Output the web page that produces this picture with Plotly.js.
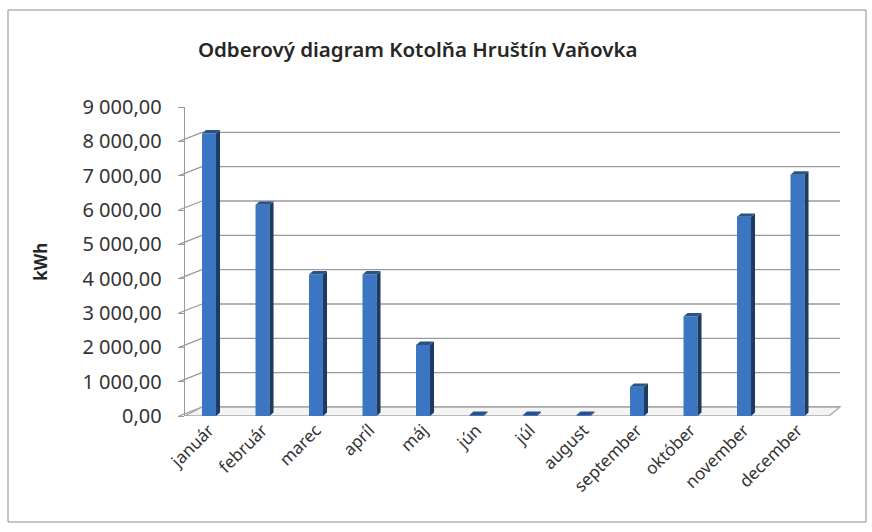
<!DOCTYPE html>
<html>
<head>
<meta charset="utf-8">
<script src="https://cdn.plot.ly/plotly-3.0.1.min.js"></script>
<style>html,body{margin:0;padding:0;background:#fff;}#chart{width:872px;height:532px;}</style>
</head>
<body>
<div id="chart"></div>
<script>
const months = ['január','február','marec','apríl','máj','jún','júl','august','september','október','november','december'];
const consumption = [8230, 6150, 4120, 4120, 2070, 30, 30, 30, 850, 2900, 5800, 7030];
const yTickValues = [0, 1000, 2000, 3000, 4000, 5000, 6000, 7000, 8000, 9000];
const chartTitle = 'Odberový diagram Kotolňa Hruštín Vaňovka';
const yLabel = 'kWh';

// 3D look constants (pixels / data depth)
const wallDx = 17, wallDy = 9;       // back wall offset in px
const halfW = 7, barDx = 4;          // bar half width and depth in px
const barDy = 100;                   // bar depth in data units (~3.5px)

const shapes = [];
// back wall gridlines + side wall diagonals
yTickValues.forEach(t => {
  shapes.push({type:'line', layer:'below', xref:'paper', yref:'y', xsizemode:'pixel', xanchor:0,
    ysizemode:'pixel', yanchor:t, x0:wallDx, x1:655, y0:wallDy, y1:wallDy,
    line:{color:'#9a9a9a', width:1.3}});
  shapes.push({type:'line', layer:'below', xref:'paper', yref:'y', xsizemode:'pixel', xanchor:0,
    ysizemode:'pixel', yanchor:t, x0:-6, x1:wallDx, y0:0, y1:wallDy,
    line:{color:'#9a9a9a', width:1.3}});
});
// floor front edge + right diagonal
shapes.push({type:'path', layer:'below', xref:'paper', yref:'y', xsizemode:'pixel', xanchor:0,
  ysizemode:'pixel', yanchor:0,
  path:`M0,0 L644,0 L655,${wallDy} L${wallDx},${wallDy} Z`,
  fillcolor:'#f3f3f3', line:{color:'#a8a8a8', width:1.3}});

// bar side and top faces
months.forEach((m, i) => {
  const v = consumption[i];
  shapes.push({type:'path', layer:'above', xref:'x', yref:'y', xsizemode:'pixel', xanchor:i,
    path:`M${halfW},${v} L${halfW+barDx},${v+barDy} L${halfW+barDx},${barDy} L${halfW},0 Z`,
    fillcolor:'#1d3a63', line:{width:0}});
  shapes.push({type:'path', layer:'above', xref:'x', yref:'y', xsizemode:'pixel', xanchor:i,
    path:`M${-halfW},${v} L${-halfW+barDx},${v+barDy} L${halfW+barDx},${v+barDy} L${halfW},${v} Z`,
    fillcolor:'#2b5286', line:{width:0}});
});

// outer chart frame
shapes.push({type:'rect', layer:'below', xref:'paper', yref:'paper', xsizemode:'pixel', xanchor:0,
  ysizemode:'pixel', yanchor:0, x0:-177, x1:681, y0:-106, y1:406,
  line:{color:'#8c8c8c', width:1}, fillcolor:'rgba(0,0,0,0)'});

const trace = {
  type:'bar', x: months, y: consumption, width: 0.262,
  marker:{color:'#3b76c2', line:{width:0}},
  hoverinfo:'x+y'
};

const layout = {
  width:872, height:532,
  margin:{l:185, r:32, t:107, b:116},
  paper_bgcolor:'#ffffff', plot_bgcolor:'rgba(0,0,0,0)',
  separators:', ',
  showlegend:false,
  title:{text:chartTitle, x:0.479, xanchor:'center', y:0.906, yanchor:'middle',
    font:{family:'Noto Sans, sans-serif', size:20.5, color:'#262626', weight:600}},
  xaxis:{type:'category', range:[-0.449, 11.794], showgrid:false, zeroline:false,
    showline:false, ticks:'', tickangle:-45,
    tickfont:{family:'Noto Sans, sans-serif', size:17, color:'#333333'}},
  yaxis:{range:[0, 9000], tickvals:yTickValues, tickformat:',.2f', showgrid:false,
    zeroline:false, showline:true, linecolor:'#9a9a9a', linewidth:1.3,
    ticks:'outside', ticklen:6, tickcolor:'#9a9a9a', ticklabelstandoff:12,
    tickfont:{family:'Noto Sans, sans-serif', size:20, color:'#333333'}},
  annotations:[{text:yLabel, xref:'paper', yref:'paper', x:-0.221, y:0.5, showarrow:false,
    textangle:-90, xanchor:'center', yanchor:'middle',
    font:{family:'Noto Sans, sans-serif', size:17, color:'#262626', weight:'bold'}}],
  shapes: shapes
};

Plotly.newPlot('chart', [trace], layout, {displayModeBar:false, staticPlot:true});
</script>
</body>
</html>
